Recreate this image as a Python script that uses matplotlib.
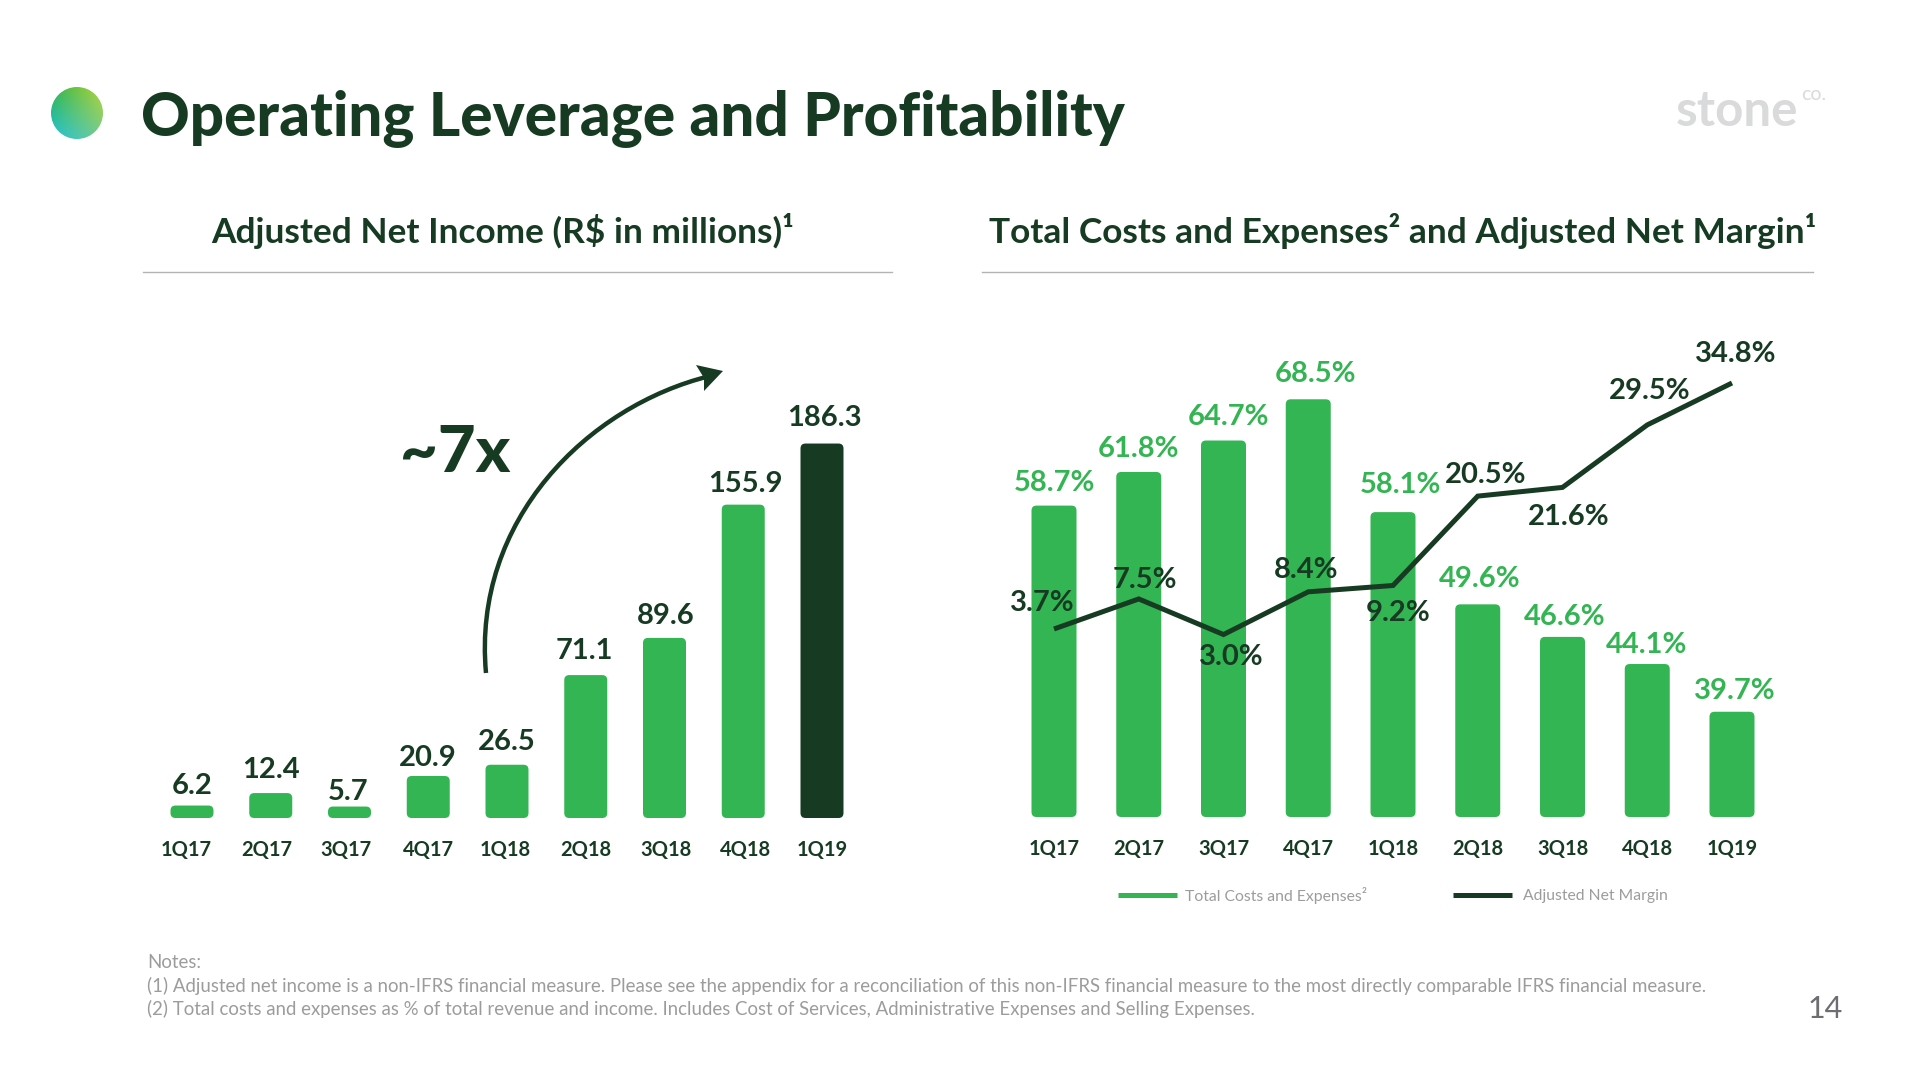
import numpy as np
from matplotlib import pyplot as plt
from matplotlib.patches import FancyBboxPatch, Circle, PathPatch, Polygon
from matplotlib.path import Path

plt.rcParams['font.family'] = ['Lato', 'DejaVu Sans']

quarters = ['1Q17', '2Q17', '3Q17', '4Q17', '1Q18', '2Q18', '3Q18', '4Q18', '1Q19']
net_income = [6.2, 12.4, 5.7, 20.9, 26.5, 71.1, 89.6, 155.9, 186.3]
costs = [58.7, 61.8, 64.7, 68.5, 58.1, 49.6, 46.6, 44.1, 39.7]
margin = [3.7, 7.5, 3.0, 8.4, 9.2, 20.5, 21.6, 29.5, 34.8]

# label nudges in pixels, the slide has them placed by hand
income_dx = [0, 0, -1, 0, 0, -1, 1, 2, 2]
income_dy = [20, 23, 15, 18, 23, 24, 22, 21, 26]
income_tick_dx = [-6, -4, -4, 0, -2, 0, 1, 2, 0]
costs_dx = [0, 0, 5, 7, 7, 2, 2, -1, 3]
costs_dy = [23, 23, 24, 25, 27, 25, 20, 19, 21]
margin_dx = [-12, 6, 8, -2, 5, 8, 6, 2, 4]
margin_dy = [26, 19, -22, 22, -28, 21, -30, 34, 29]

GREEN = '#34b553'
DARK = '#173b22'
GREY = '#9c9c9c'
W, H = 1920, 1080


def axes_px(left, right, top, bottom):
    return fig.add_axes([left / W, 1 - bottom / H, (right - left) / W, (bottom - top) / H])


def round_bars(ax, values, base, width, color, x_px, y_px, radius=5):
    # x_px and y_px are pixels per data unit, needed to keep the corners round
    for i, v in enumerate(values):
        c = color[i] if isinstance(color, list) else color
        ax.add_patch(FancyBboxPatch((i - width / 2, base), width, v - base,
                                    boxstyle='round,pad=0,rounding_size=%f' % (radius / x_px),
                                    mutation_aspect=x_px / y_px, fc=c, ec='none'))


def clean(ax):
    for s in ax.spines.values():
        s.set_visible(False)
    ax.set_yticks([])
    ax.tick_params(axis='x', length=0, pad=15.5)
    ax.patch.set_alpha(0)


fig = plt.figure(figsize=(19.2, 10.8), dpi=100, facecolor='white')

# left chart
x0, dx = 192, 78.75
y_scale = 2.01
top, bottom = 300, 818
ax = axes_px(143, 892, top, bottom)
ax.set_xlim((143 - x0) / dx, (892 - x0) / dx)
ax.set_ylim(0, (bottom - top) / y_scale)
round_bars(ax, net_income, 0, 43 / dx, [GREEN] * 8 + [DARK], dx, y_scale)
for i, v in enumerate(net_income):
    ax.annotate('%.1f' % v, (i, v), xytext=(income_dx[i], income_dy[i]), textcoords='offset pixels',
                ha='center', va='center', fontsize=21, fontweight='bold', color=DARK)
ax.set_xticks([i + income_tick_dx[i] / dx for i in range(9)], quarters,
              fontsize=14.5, fontweight='bold', color=DARK)
clean(ax)

# right chart, bars start at 30 on the original too
x0, dx = 1054, 84.75
y_scale = 10.85
top, bottom = 300, 817
ax2 = axes_px(982, 1813, top, bottom)
ax2.set_xlim((982 - x0) / dx, (1813 - x0) / dx)
ax2.set_ylim(30, 30 + (bottom - top) / y_scale)
round_bars(ax2, costs, 30, 45 / dx, GREEN, dx, y_scale)
for i, v in enumerate(costs):
    ax2.annotate('%.1f%%' % v, (i, v), xytext=(costs_dx[i], costs_dy[i]), textcoords='offset pixels',
                 ha='center', va='center', fontsize=21, fontweight='bold', color=GREEN)
ax2.set_xticks(range(9), quarters, fontsize=14.5, fontweight='bold', color=DARK)
clean(ax2)

line_scale = 7.91
line_ax = ax2.twinx()
line_ax.set_ylim(3.7 - (bottom - 629) / line_scale, 3.7 + (629 - top) / line_scale)
line_ax.plot(range(9), margin, color=DARK, lw=3.6, solid_joinstyle='miter', solid_capstyle='butt')
for i, v in enumerate(margin):
    line_ax.annotate('%.1f%%' % v, (i, v), xytext=(margin_dx[i], margin_dy[i]), textcoords='offset pixels',
                     ha='center', va='center', fontsize=21, fontweight='bold', color=DARK)
for s in line_ax.spines.values():
    s.set_visible(False)
line_ax.set_yticks([])

# everything else sits on a pixel sized overlay
page = fig.add_axes([0, 0, 1, 1], zorder=5)
page.set_xlim(0, W)
page.set_ylim(H, 0)
page.axis('off')

page.text(141, 119, 'Operating Leverage and Profitability', fontsize=43.4, fontweight='black',
          color=DARK, va='center')
page.text(502.5, 231, 'Adjusted Net Income (R$ in millions)¹', fontsize=25.4, fontweight='bold',
          color=DARK, va='center', ha='center')
page.text(1403, 231, 'Total Costs and Expenses² and Adjusted Net Margin¹', fontsize=25.4, fontweight='bold',
          color=DARK, va='center', ha='center')
page.plot([143, 892], [272, 272], color='#b3b3b3', lw=1)
page.plot([982, 1813], [272, 272], color='#b3b3b3', lw=1)

# logo
page.text(1676, 126, 'stone', fontsize=35.5, color='#d9dadb', fontweight='bold', va='baseline')
page.text(1801, 100, 'co.', fontsize=14, color='#d9dadb', va='baseline')

# round gradient bullet
gx, gy = np.meshgrid(np.linspace(0, 1, 64), np.linspace(0, 1, 64))
corners = np.array([[[0.18, 0.71, 0.30], [0.70, 0.83, 0.22]],
                    [[0.13, 0.76, 0.85], [0.45, 0.80, 0.55]]])
grad = ((1 - gy)[..., None] * ((1 - gx)[..., None] * corners[0, 0] + gx[..., None] * corners[0, 1])
        + gy[..., None] * ((1 - gx)[..., None] * corners[1, 0] + gx[..., None] * corners[1, 1]))
im = page.imshow(grad, extent=(51, 103, 139, 87), aspect='auto', zorder=2)
im.set_clip_path(Circle((77, 113), 26, transform=page.transData))
page.set_xlim(0, W)
page.set_ylim(H, 0)

# growth arrow
curve = Path([(486, 673), (472, 520), (588, 406), (710, 376)],
             [Path.MOVETO, Path.CURVE4, Path.CURVE4, Path.CURVE4])
page.add_patch(PathPatch(curve, fc='none', ec=DARK, lw=3.2))
page.add_patch(Polygon([(723, 371), (696, 365), (704, 378), (704, 391)], fc=DARK, ec='none'))
page.text(455, 453, '~7x', fontsize=47, fontweight='black', color=DARK, ha='center', va='center')

# legend
page.plot([1118, 1177], [895, 895], color=GREEN, lw=3.6, solid_capstyle='butt')
page.text(1185, 896, 'Total Costs and Expenses²', fontsize=11.3, color=GREY, va='center')
page.plot([1453, 1512], [895, 895], color=DARK, lw=3.6, solid_capstyle='butt')
page.text(1523, 896, 'Adjusted Net Margin', fontsize=11.3, color=GREY, va='center')

# notes
page.text(147, 963, 'Notes:', fontsize=13.42, color=GREY, va='center')
page.text(147, 986, '(1) Adjusted net income is a non-IFRS financial measure. Please see the appendix for a '
          'reconciliation of this non-IFRS financial measure to the most directly comparable IFRS financial measure.',
          fontsize=13.42, color=GREY, va='center')
page.text(147, 1009, '(2) Total costs and expenses as % of total revenue and income. Includes Cost of Services, '
          'Administrative Expenses and Selling Expenses.', fontsize=13.42, color=GREY, va='center')
page.text(1825, 1009, '14', fontsize=22, color='#6d6e71', ha='center', va='center')

fig.savefig('out.png', dpi=100)
